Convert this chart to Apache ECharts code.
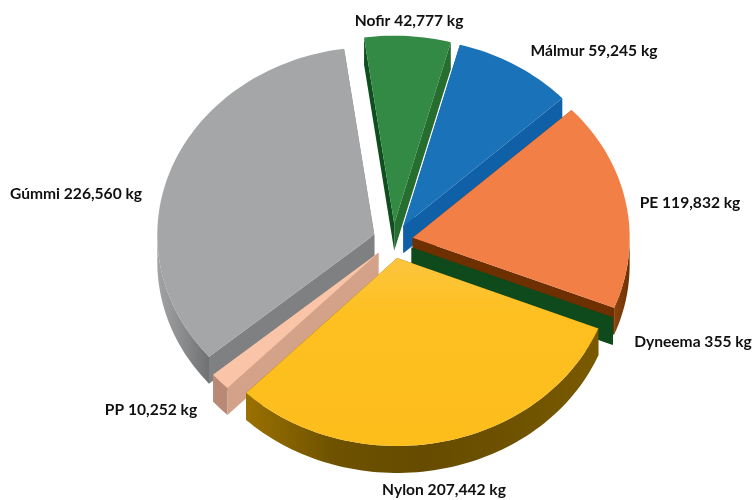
<!DOCTYPE html>
<html>
<head>
<meta charset="utf-8">
<style>
html, body { margin: 0; padding: 0; background: #fff; }
#main { width: 753px; height: 500px; }
</style>
<script src="https://cdn.jsdelivr.net/npm/echarts@6/dist/echarts.min.js"></script>
</head>
<body>
<div id="main"></div>
<script>
// values in kg, clockwise from the top
var names = ['Nofir', 'Málmur', 'PE', 'Dyneema', 'Nylon', 'PP', 'Gúmmi'];
var values = [42777, 59245, 119832, 355, 207442, 10252, 226560];

// colours per slice: top face, walls of the two cuts, rim
var topColors = ['#338a45', '#1a72b8', '#f27f46', '#0f4a1c', '#fdc020', '#f9c4a8', '#a5a6a8'];
var firstCutColors = ['#0f4f1f', '#1060a8', '#6e3000', '#0f4a1c', '#6e5000', '#d4a288', '#7f8082'];
var lastCutColors = ['#256e30', '#1060a8', '#6e3000', '#0f4a1c', '#6e5000', '#d4a288', '#7f8082'];
var rimColors = [
    ['#256e30', '#256e30'],
    ['#1060a8', '#1060a8'],
    ['#8a4510', '#6e3000'],
    ['#0f4a1c', '#0f4a1c'],
    ['#9a7000', '#6e5200', '#664b00', '#6e5200', '#7a5a00'],
    ['#b88a75', '#b88a75'],
    ['#a2a3a5', '#8a8b8d', '#707173']
];
// centre of each label in pixels
var labelSpots = [[409, 21], [594, 51], [690, 203], [693, 342], [444, 490], [151, 410], [76, 194]];

// pie geometry
var cx = 393, cy = 241, rx = 217, ry = 188;
var explode = 20, depth = 27, startAngle = -8;

var total = values.reduce(function (a, b) { return a + b; }, 0);

function project(deg, radius, ox, oy) {
    var a = deg * Math.PI / 180;
    return [ox + Math.sin(a) * radius, oy - Math.cos(a) * radius * ry / rx];
}

function sliceAngles(index) {
    var sum = 0;
    for (var i = 0; i < index; i++) sum += values[i];
    return [startAngle + sum / total * 360, startAngle + (sum + values[index]) / total * 360];
}

function down(p) {
    return [p[0], p[1] + depth];
}

function renderSlice(params, api) {
    var i = params.dataIndex;
    var range = sliceAngles(i);
    var mid = (range[0] + range[1]) / 2;
    var apex = project(mid, explode, cx, cy);
    var arc = [];
    var steps = Math.max(2, Math.ceil((range[1] - range[0]) / 1.5));
    for (var s = 0; s <= steps; s++) {
        arc.push(project(range[0] + (range[1] - range[0]) * s / steps, rx, apex[0], apex[1]));
    }
    var first = arc[0], last = arc[arc.length - 1];
    var order = Math.round(-Math.cos(mid * Math.PI / 180) * 100) * 10;
    var children = [];

    function face(points, fill, step) {
        children.push({
            type: 'polygon',
            z2: order + step,
            shape: { points: points },
            style: { fill: fill }
        });
    }

    // walls of the two cuts
    face([apex, first, down(first), down(apex)], firstCutColors[i], 0);
    face([apex, last, down(last), down(apex)], lastCutColors[i], 0);

    // outer rim, front half only
    var front = arc.filter(function (p) { return p[1] >= apex[1] - 1; });
    if (front.length > 1) {
        var rim = front.concat(front.slice().reverse().map(down));
        var stops = rimColors[i].map(function (c, k, all) {
            return { offset: k / (all.length - 1), color: c };
        });
        face(rim, new echarts.graphic.LinearGradient(0, 0, 1, 0, stops), 1);
    }

    // top face
    var topFill = i === 4
        ? new echarts.graphic.LinearGradient(0, 0, 0, 1, [
            { offset: 0, color: '#fdc53f' },
            { offset: 0.3, color: '#fdc020' },
            { offset: 1, color: '#fdbe1c' }
        ])
        : topColors[i];
    face([apex].concat(arc), topFill, 2);

    children.push({
        type: 'text',
        z2: 5000,
        x: labelSpots[i][0],
        y: labelSpots[i][1],
        style: {
            text: names[i] + ' ' + api.value(0).toLocaleString('en-US') + ' kg',
            font: 'bold 15.6px Lato',
            fill: '#111',
            align: 'center',
            verticalAlign: 'middle'
        }
    });
    return { type: 'group', children: children };
}

var myChart = echarts.init(document.getElementById('main'), null, { renderer: 'canvas' });
myChart.setOption({
    animation: false,
    backgroundColor: '#fff',
    series: [
        {
            type: 'custom',
            coordinateSystem: 'none',
            renderItem: renderSlice,
            data: values.map(function (v, i) { return { name: names[i], value: [v] }; })
        }
    ]
});
</script>
</body>
</html>
